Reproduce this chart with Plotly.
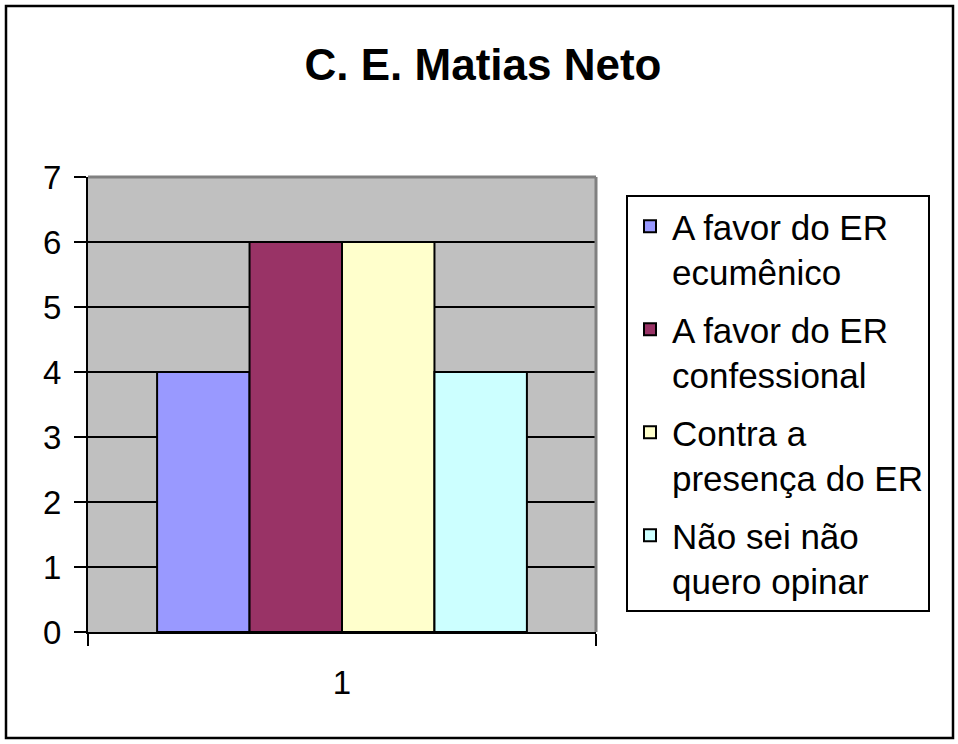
import plotly.graph_objects as go

categories = ["1"]
series_names = [
    "A favor do ER<br>ecumênico",
    "A favor do ER<br>confessional",
    "Contra a<br>presença do ER",
    "Não sei não<br>quero opinar",
]
series_values = [4, 6, 6, 4]
series_colors = ["#9999FF", "#993366", "#FFFFCC", "#CCFFFF"]
y_ticks = [0, 1, 2, 3, 4, 5, 6, 7]

W, H = 958, 744
L, R, T, B = 88, 596, 177, 632

fig = go.Figure()
for i, (name, val, col) in enumerate(zip(series_names, series_values, series_colors)):
    fig.add_trace(go.Bar(
        x=categories, y=[val], name=name, legendgroup=f"g{i}",
        marker=dict(color=col, line=dict(color="black", width=2)),
    ))

font = "Liberation Sans, Arial, sans-serif"

def px_x(p):
    return (p - L) / (R - L)

def px_y(p):
    return (B - p) / (B - T)

fig.update_layout(
    width=W, height=H,
    margin=dict(l=L, r=W - R, t=T, b=H - B, pad=0),
    paper_bgcolor="white",
    plot_bgcolor="#C0C0C0",
    barmode="group",
    bargap=0.272,
    bargroupgap=0,
    font=dict(family=font, color="black", size=33),
    title=dict(
        text="<b>C. E. Matias Neto</b>",
        x=483 / W, xanchor="center",
        xref="container", yref="container",
        y=1 - 65 / H, yanchor="middle",
        font=dict(family=font, size=44, color="black"),
    ),
    showlegend=True,
    legend=dict(
        xref="container", yref="container",
        x=626 / W, y=1 - 195 / H, xanchor="left", yanchor="top",
        bgcolor="white", bordercolor="black", borderwidth=2,
        font=dict(family=font, size=35, color="black"),
        valign="top",
        traceorder="grouped",
        tracegroupgap=9,
        itemwidth=34,
        maxheight=650,
    ),
    xaxis=dict(
        type="category",
        showgrid=False, zeroline=False,
        showline=True, linecolor="black", linewidth=2,
        ticks="outside", tickson="boundaries", ticklen=12,
        tickwidth=2, tickcolor="black",
        ticklabelstandoff=20,
    ),
    yaxis=dict(
        range=[0, 7], tickvals=y_ticks,
        showgrid=True, gridcolor="black", gridwidth=2,
        zeroline=False,
        showline=True, linecolor="black", linewidth=2,
        ticks="outside", ticklen=12, tickwidth=2, tickcolor="black",
        ticklabelstandoff=6,
    ),
    shapes=[
        dict(type="line", xref="paper", yref="paper", x0=0, x1=1, y0=1, y1=1,
             line=dict(color="#808080", width=3), layer="above"),
        dict(type="line", xref="paper", yref="paper", x0=1, x1=1, y0=0, y1=1,
             line=dict(color="#808080", width=3), layer="above"),
        dict(type="rect", xref="paper", yref="paper",
             x0=px_x(6), x1=px_x(953), y0=px_y(738), y1=px_y(6),
             line=dict(color="black", width=2.5), fillcolor="rgba(0,0,0,0)",
             layer="above"),
    ],
)

fig.write_html(
    "out.html",
    config={"displayModeBar": False},
    post_script="document.body.style.margin='0';document.documentElement.style.overflow='hidden';",
)
